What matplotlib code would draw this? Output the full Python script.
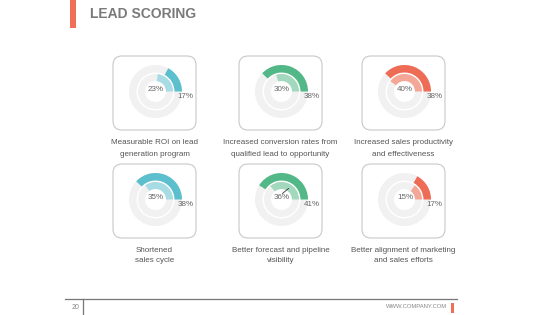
import matplotlib
matplotlib.use("Agg")
import matplotlib.pyplot as plt
from matplotlib.patches import Wedge, FancyBboxPatch, Rectangle

plt.rcParams['font.family'] = ['Liberation Sans', 'DejaVu Sans']

title = "LEAD SCORING"
labels = [
    "Measurable ROI on lead\ngeneration program",
    "Increased conversion rates from\nqualified lead to opportunity",
    "Increased sales productivity\nand effectiveness",
    "Shortened\nsales cycle",
    "Better forecast and pipeline\nvisibility",
    "Better alignment of marketing\nand sales efforts",
]
inner_values = [23, 30, 40, 35, 36, 15]
outer_values = [17, 38, 38, 38, 41, 17]
outer_colors = ["#5cbfcd", "#52b887", "#ee6b55", "#5cbfcd", "#52b887", "#ee6b55"]
inner_colors = ["#a8dce4", "#a2d8bd", "#f4a797", "#a8dce4", "#a2d8bd", "#f4a797"]
page_number = "20"
footer_text = "WWW.COMPANY.COM"

W, H = 560, 315
fig = plt.figure(figsize=(5.6, 3.15), dpi=100)
ax = fig.add_axes([0, 0, 1, 1])
ax.set_xlim(0, W)
ax.set_ylim(0, H)
ax.axis('off')

def Y(py):
    return H - py

red = "#ef6f57"
# title bar and title
ax.add_patch(Rectangle((70, Y(28)), 6, 28, color=red, lw=0))
ax.text(90, Y(14), title, fontsize=10, fontweight='bold', color='#7a7a7a',
        va='center', ha='left')

col_x = [154.5, 280.5, 403.5]
row_box = [(56, 130), (164, 238)]
label_y = [(143, 154), (250, 261)]

for i, lab in enumerate(labels):
    r, c = divmod(i, 3)
    cx = col_x[c]
    top, bot = row_box[r]
    bw, bh = 83, bot - top
    ax.add_patch(FancyBboxPatch((cx - bw / 2 + 5, Y(bot) + 5), bw - 10, bh - 10,
                                boxstyle="round,pad=5,rounding_size=9",
                                fc='white', ec='#c8c8c8', lw=0.8))
    ccx, ccy = cx + 1, Y((top + bot) / 2 - 1.5)
    # gray background rings
    ax.add_patch(Wedge((ccx, ccy), 26.5, 0, 360, width=7.5, fc='#f1f1f1', ec='none'))
    ax.add_patch(Wedge((ccx, ccy), 17.5, 0, 360, width=7.0, fc='#f1f1f1', ec='none'))
    # value arcs
    ax.add_patch(Wedge((ccx, ccy), 26.5, 0, outer_values[i] * 3.6, width=7.5,
                       fc=outer_colors[i], ec='none'))
    ax.add_patch(Wedge((ccx, ccy), 17.5, 0, inner_values[i] * 3.6, width=7.0,
                       fc=inner_colors[i], ec='none'))
    ax.text(ccx + 0.5, ccy + 2, f"{inner_values[i]}%", fontsize=5.8, color='#666666',
            ha='center', va='center')
    ax.text(ccx + 30, ccy - 5.5, f"{outer_values[i]}%", fontsize=5.8, color='#666666',
            ha='center', va='center')
    if i == 4:
        ax.plot([ccx + 1, ccx + 7], [ccy + 6, ccy + 11], color='#333333', lw=0.6)
    l1, l2 = lab.split("\n")
    ax.text(cx, Y(label_y[r][0]), l1, fontsize=5.8, color='#555555', ha='center', va='center')
    ax.text(cx, Y(label_y[r][1]), l2, fontsize=5.8, color='#555555', ha='center', va='center')

# footer
ax.plot([65, 457], [Y(299), Y(299)], color='#777777', lw=0.9)
ax.plot([83, 83], [Y(299), 0], color='#777777', lw=0.9)
ax.text(76, Y(307.5), page_number, fontsize=5, color='#888888', ha='center', va='center')
ax.text(447, Y(307), footer_text, fontsize=4.2, color='#888888', ha='right', va='center')
ax.add_patch(Rectangle((451, Y(313)), 2.5, 10, color=red, lw=0))

fig.savefig("out.png", dpi=100)
